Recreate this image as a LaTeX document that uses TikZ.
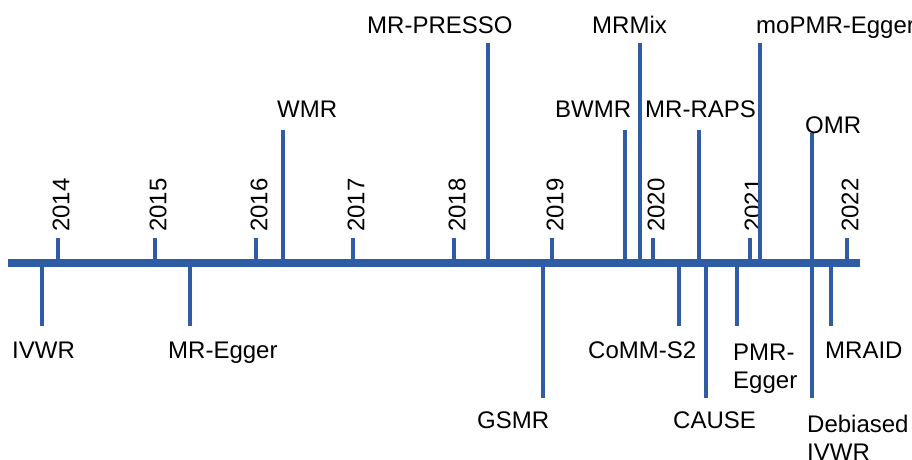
\documentclass[tikz,border=0pt]{standalone}
\usepackage{fontspec}
\setmainfont{Liberation Sans}
\definecolor{tlblue}{RGB}{47,93,165}
\begin{document}
\begin{tikzpicture}[x=1pt,y=-1pt,
  axisline/.style={draw=tlblue,line width=8pt},
  yeartick/.style={draw=tlblue,line width=4pt},
  stem/.style={draw=tlblue,line width=3.5pt},
  lbl/.style={inner sep=0pt,anchor=base west,font=\fontsize{24}{28}\selectfont},
  lbltwo/.style={inner sep=0pt,anchor=north west,align=left,font=\fontsize{24}{28}\selectfont},
  yearlbl/.style={inner sep=0pt,anchor=west,rotate=90,font=\fontsize{24}{28}\selectfont}]
\useasboundingbox (0,0) rectangle (912,459);
% axis
\coordinate (ax0) at (8,263);
\coordinate (ax1) at (860,263);
\draw[axisline] (ax0) -- (ax1);
% year ticks and labels
\foreach \yr/\xx in {2014/58,2015/155,2016/256,2017/353,2018/454,2019/552,2020/653,2021/750,2022/847}{
  \coordinate (t\yr a) at (\xx,263);
  \coordinate (t\yr b) at (\xx,238);
  \draw[yeartick] (t\yr a) -- (t\yr b);
  \node[yearlbl] (y\yr) at (\xx+3,232) {\yr};
}
% methods above axis
\foreach \nm/\xx/\top/\lx/\ly/\txt in {
  wmr/283/130/277/117/WMR,
  presso/488/43/367/33/MR-PRESSO,
  bwmr/625/130/555/117/BWMR,
  mrmix/640/43/592/33/MRMix,
  raps/699/130/645/117/MR-RAPS,
  mopmr/760/43/756/33/moPMR-Egger,
  omr/812/133/805/133/OMR}{
  \coordinate (\nm a) at (\xx,263);
  \coordinate (\nm b) at (\xx,\top);
  \draw[stem] (\nm a) -- (\nm b);
  \node[lbl] (\nm) at (\lx,\ly) {\txt};
}
% methods below axis
\foreach \nm/\xx/\bot/\lx/\ly/\txt in {
  ivwr/42/326/12/358/IVWR,
  egger/190/326/168/358/MR-Egger,
  gsmr/543/398/477/428/GSMR,
  comm/679/326/588/358/CoMM-S2,
  cause/706/398/673/428/CAUSE,
  mraid/831/326/825/358/MRAID}{
  \coordinate (\nm a) at (\xx,263);
  \coordinate (\nm b) at (\xx,\bot);
  \draw[stem] (\nm a) -- (\nm b);
  \node[lbl] (\nm) at (\lx,\ly) {\txt};
}
% two-line labels
\coordinate (pmra) at (737,263);
\coordinate (pmrb) at (737,326);
\draw[stem] (pmra) -- (pmrb);
\node[lbltwo] (pmr) at (733,344) {PMR-\\Egger};
\coordinate (debia) at (812,263);
\coordinate (debib) at (812,398);
\draw[stem] (debia) -- (debib);
\node[lbltwo] (debi) at (807,415) {Debiased\\IVWR};
\end{tikzpicture}
\end{document}
